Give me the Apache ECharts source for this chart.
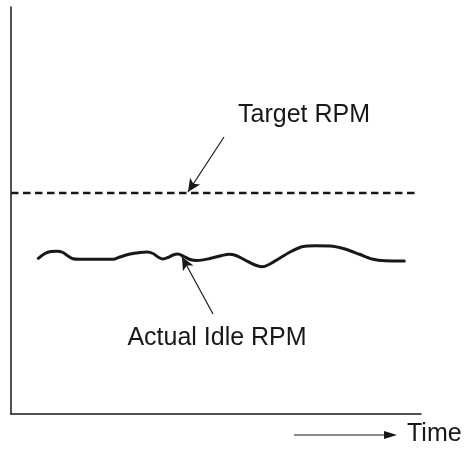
<!DOCTYPE html>
<html>
<head>
<meta charset="utf-8">
<script src="https://cdn.jsdelivr.net/npm/echarts@6/dist/echarts.min.js"></script>
<style>html,body{margin:0;padding:0;background:#fff}#c{width:465px;height:450px}</style>
</head>
<body>
<div id="c"></div>
<script>
// Schematic data (arbitrary units): time on x, RPM on y
const timeRange = [0, 410];
const rpmRange = [0, 407];
const targetRPM = 221;
const targetSpan = [0, 404];
const actualTime = [27.3, 34, 40, 46, 52, 57, 62, 69, 102, 109, 119, 129, 136, 142, 147, 152, 157, 162, 167, 172, 179, 186, 199, 211, 218, 225, 234, 244, 251, 257, 269, 281, 292, 304, 319, 334, 349, 361, 374, 393.3];
const actualRPM = [155.7, 160.5, 162.5, 162.8, 161.5, 158, 155.2, 154.7, 154.7, 157, 160, 161.5, 162, 160.5, 157, 155, 156.5, 159, 160, 158, 154.5, 153.5, 155.5, 158.5, 159.8, 158.5, 154, 149, 147.3, 149, 156, 163, 167.5, 168.2, 168, 165, 159.5, 155, 153.2, 153];
const labels = ['Target RPM', 'Actual Idle RPM'];
const labelPos = [[293, 299], [206, 76]];
const arrowTarget = [[213, 277], [177, 222]];
const arrowActual = [[202, 100], [171, 157]];

const ink = '#1a1718';
const font = '"Liberation Sans", Arial, sans-serif';
const chart = echarts.init(document.getElementById('c'));
chart.setOption({
  animation: false,
  grid: { left: 11, top: 7, right: 44, bottom: 36, containLabel: false },
  xAxis: {
    type: 'value', min: timeRange[0], max: timeRange[1],
    axisLine: { show: true, onZero: false, lineStyle: { color: ink, width: 1.5 } },
    axisTick: { show: false }, axisLabel: { show: false }, splitLine: { show: false }
  },
  yAxis: {
    type: 'value', min: rpmRange[0], max: rpmRange[1],
    axisLine: { show: true, onZero: false, lineStyle: { color: ink, width: 1.5 } },
    axisTick: { show: false }, axisLabel: { show: false }, splitLine: { show: false }
  },
  series: [
    {
      type: 'line', name: 'Target', silent: true, symbol: 'none',
      data: targetSpan.map(t => [t, targetRPM]),
      lineStyle: { color: ink, width: 2.3, type: [7.5, 4.5] },
      markLine: {
        silent: true, symbol: ['none', 'arrow'], symbolSize: [9, 13],
        label: { show: false },
        lineStyle: { color: ink, width: 1.2, type: 'solid' },
        data: [[{ coord: arrowTarget[0] }, { coord: arrowTarget[1] }]]
      }
    },
    {
      type: 'line', name: 'Actual', silent: true, symbol: 'none', smooth: 0.3,
      data: actualTime.map((t, i) => [t, actualRPM[i]]),
      lineStyle: { color: ink, width: 3, cap: 'round', join: 'round' },
      markLine: {
        silent: true, symbol: ['none', 'arrow'], symbolSize: [9, 13],
        label: { show: false },
        lineStyle: { color: ink, width: 1.2, type: 'solid' },
        data: [[{ coord: arrowActual[0] }, { coord: arrowActual[1] }]]
      }
    },
    {
      type: 'scatter', silent: true, symbolSize: 0,
      data: labelPos.map((p, i) => ({ value: p, name: labels[i] })),
      label: {
        show: true, position: [0, 0], align: 'center', verticalAlign: 'middle',
        formatter: p => p.name, textBorderWidth: 0, opacity: 1,
        color: ink, fontSize: 25, fontFamily: font
      }
    }
  ],
  graphic: [
    { type: 'line', shape: { x1: 294, y1: 435, x2: 390, y2: 435 }, style: { stroke: ink, lineWidth: 1.2 } },
    { type: 'polygon', shape: { points: [[384, 431], [397, 435], [384, 439]] }, style: { fill: ink } },
    { type: 'text', left: 407, top: 422, style: { text: 'Time', font: '25px ' + font, fill: ink } }
  ]
});
</script>
</body>
</html>
